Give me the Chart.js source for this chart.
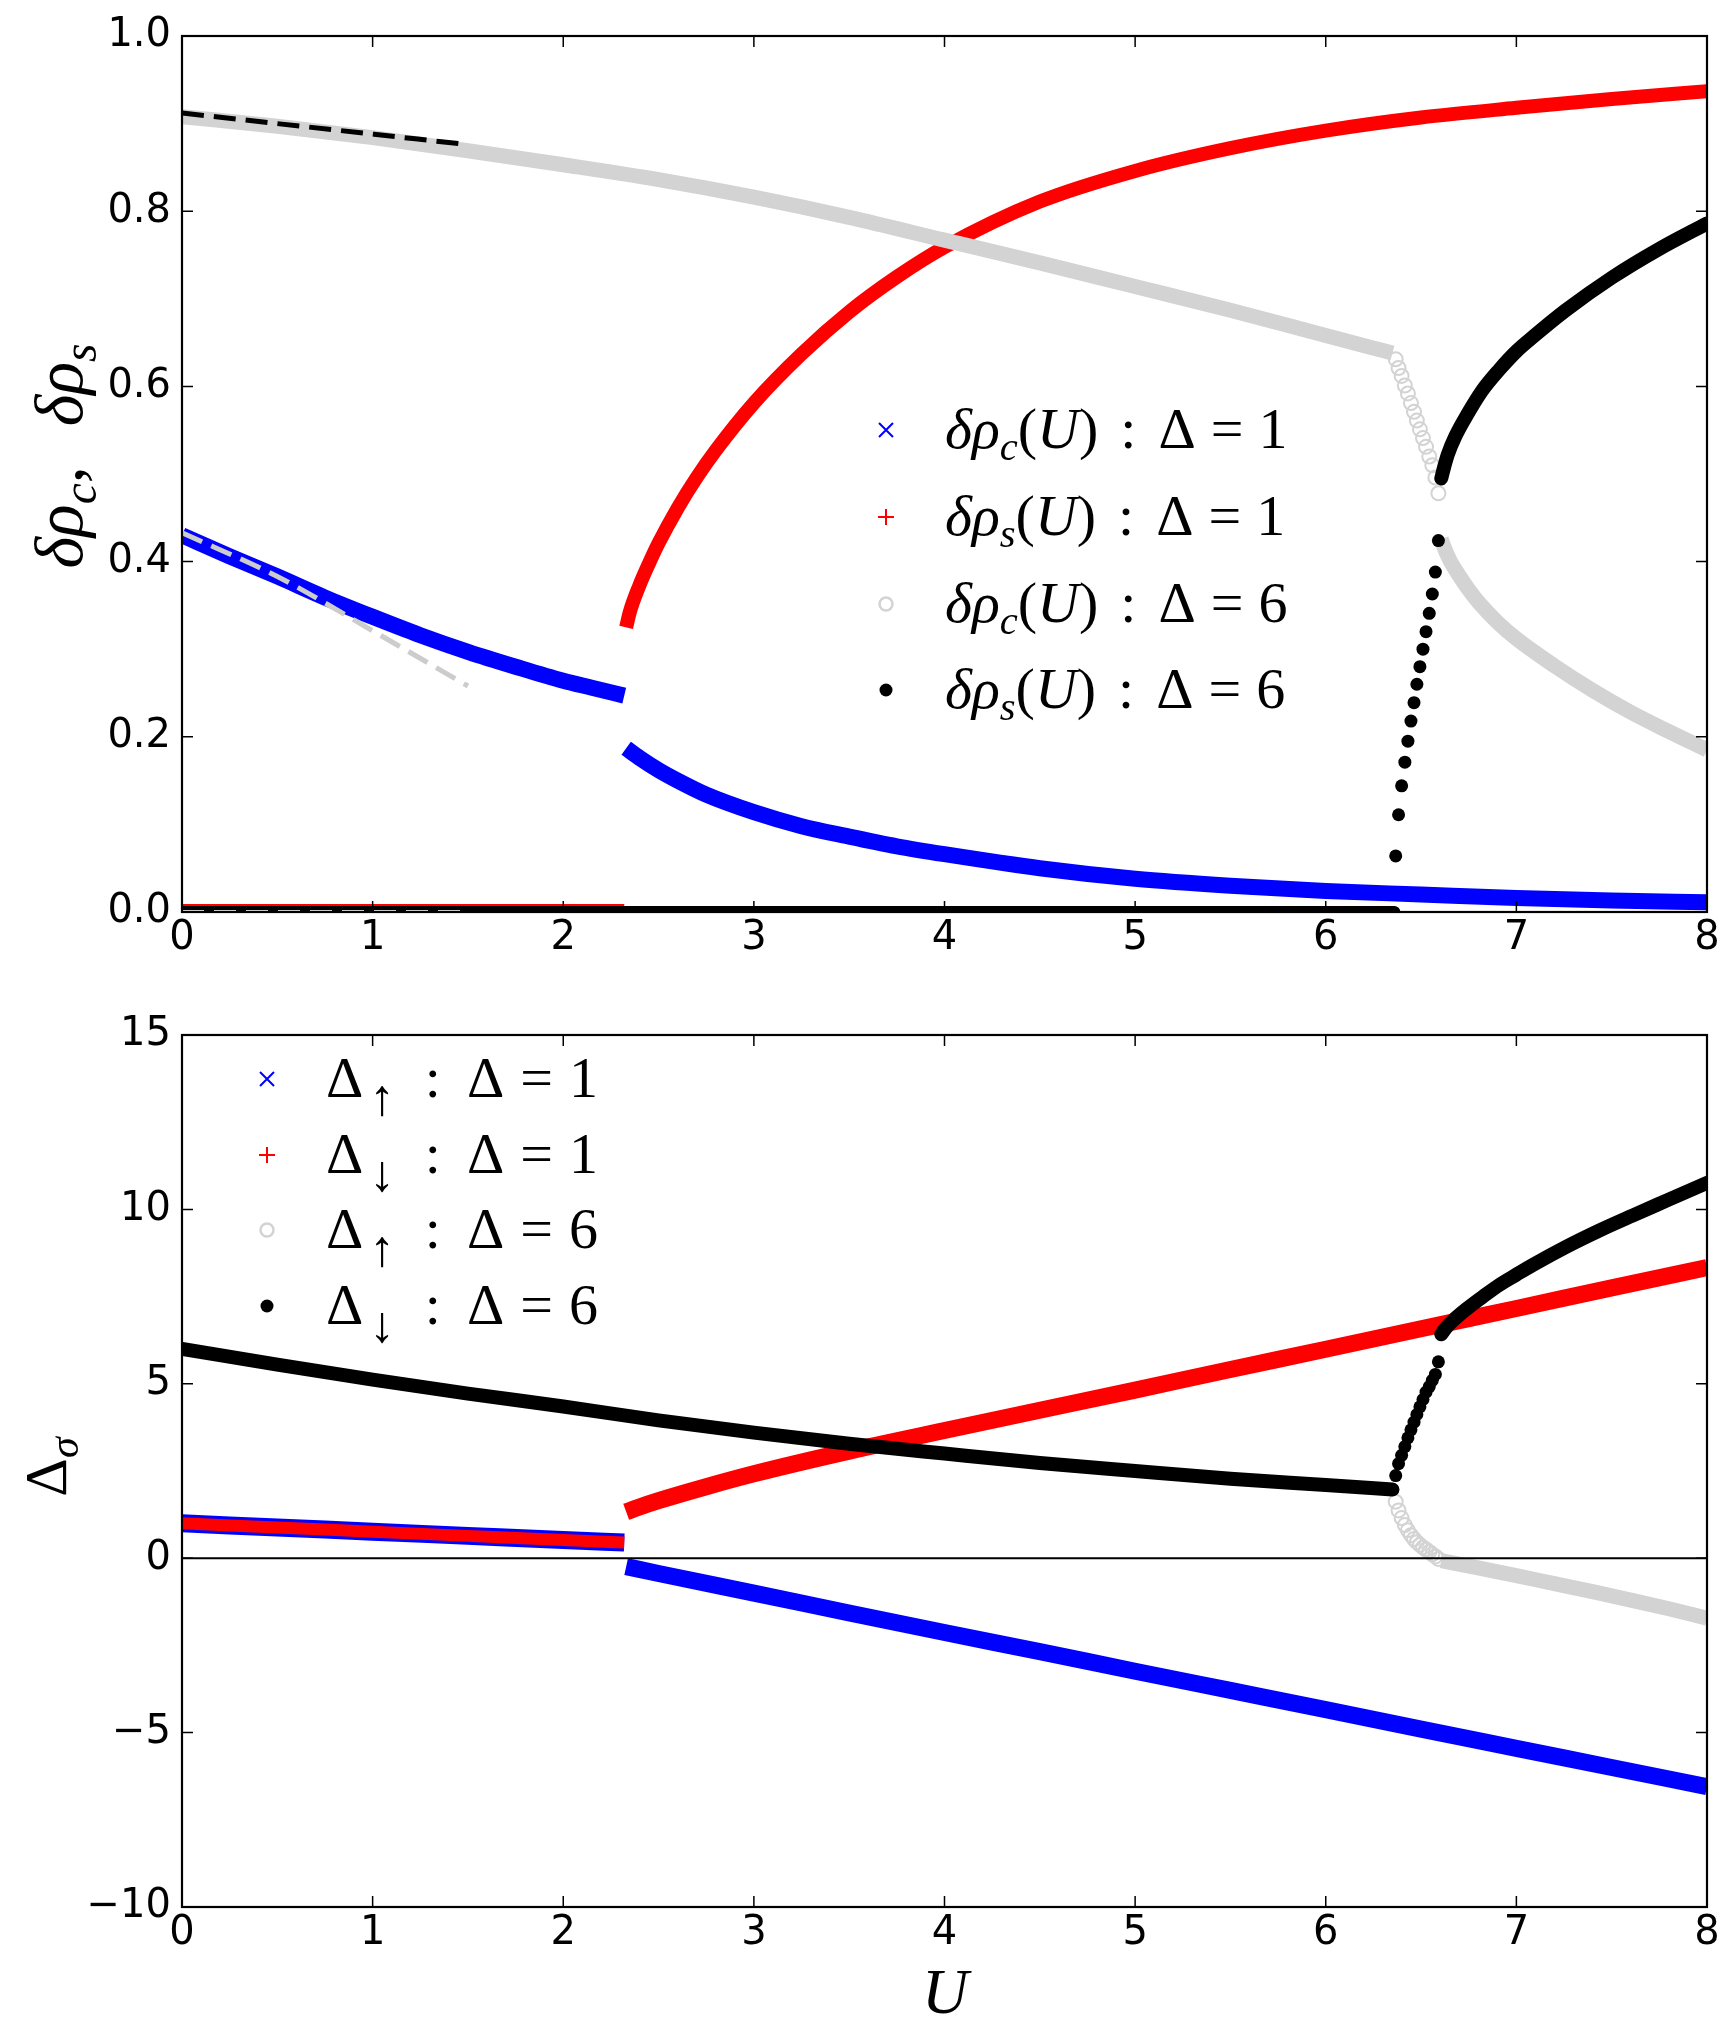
<!DOCTYPE html>
<html>
<head>
<meta charset="utf-8">
<script src="https://cdn.jsdelivr.net/npm/chart.js@4.4.0/dist/chart.umd.min.js"></script>
<style>
  html, body { margin: 0; padding: 0; background: #fff; }
  #wrap { position: relative; width: 1736px; height: 2044px; overflow: hidden; }
  canvas { position: absolute; left: 0; }
  #top { top: 0; width: 1736px; height: 1000px; }
  #bottom { top: 1000px; width: 1736px; height: 1044px; }
</style>
</head>
<body>
<div id="wrap">
  <canvas id="top" width="1736" height="1000"></canvas>
  <canvas id="bottom" width="1736" height="1044"></canvas>
</div>
<script>
// ---- ticks ----
const xTicks = [0, 1, 2, 3, 4, 5, 6, 7, 8];
const xTickLabels = ['0', '1', '2', '3', '4', '5', '6', '7', '8'];
const topYTicks = [0, 0.2, 0.4, 0.6, 0.8, 1.0];
const topYTickLabels = ['0.0', '0.2', '0.4', '0.6', '0.8', '1.0'];
const botYTicks = [-10, -5, 0, 5, 10, 15];
const botYTickLabels = ['\u221210', '\u22125', '0', '5', '10', '15'];

// ---- top panel: delta rho ----
// Delta = 1, charge (blue x)
const U_c1_a = [0, 0.25, 0.5, 0.75, 1, 1.25, 1.5, 1.75, 2, 2.15, 2.32];
const rhoC1_a = [0.430, 0.406, 0.383, 0.359, 0.337, 0.316, 0.297, 0.280, 0.264, 0.256, 0.247];
const U_c1_b = [2.33, 2.4, 2.5, 2.6, 2.75, 3, 3.25, 3.5, 3.75, 4, 4.5, 5, 5.5, 6, 6.5, 7, 7.5, 8];
const rhoC1_b = [0.187, 0.176, 0.162, 0.150, 0.134, 0.114, 0.098, 0.086, 0.075, 0.066, 0.050, 0.038, 0.030, 0.024, 0.020, 0.016, 0.013, 0.011];
// Delta = 1, spin (red +)
const U_s1_a = [0, 2.32];
const rhoS1_a = [0, 0];
const U_s1_b = [2.33, 2.35, 2.4, 2.45, 2.5, 2.6, 2.7, 2.8, 3, 3.25, 3.5, 3.75, 4, 4.5, 5, 5.5, 6, 6.5, 7, 7.5, 8];
const rhoS1_b = [0.325, 0.343, 0.373, 0.398, 0.421, 0.461, 0.496, 0.527, 0.581, 0.637, 0.685, 0.725, 0.759, 0.811, 0.846, 0.872, 0.892, 0.907, 0.918, 0.928, 0.937];
// Delta = 6, charge (grey o)
const U_c6_a = [0, 0.5, 1, 1.5, 2, 2.5, 3, 3.5, 4, 4.5, 5, 5.5, 6, 6.35];
const rhoC6_a = [0.908, 0.897, 0.884, 0.869, 0.853, 0.836, 0.816, 0.793, 0.767, 0.741, 0.714, 0.687, 0.658, 0.638];
const U_jump = [6.367, 6.382, 6.398, 6.415, 6.431, 6.447, 6.463, 6.478, 6.494, 6.510, 6.526, 6.543, 6.559, 6.575, 6.591];
const rhoC6_jump = [0.631, 0.621, 0.612, 0.601, 0.592, 0.581, 0.571, 0.561, 0.551, 0.541, 0.531, 0.520, 0.510, 0.496, 0.478];
const U_c6_c = [6.606, 6.62, 6.65, 6.7, 6.75, 6.8, 6.9, 7.0, 7.2, 7.4, 7.6, 7.8, 8.0];
const rhoC6_c = [0.426, 0.417, 0.402, 0.384, 0.368, 0.354, 0.331, 0.312, 0.281, 0.253, 0.228, 0.206, 0.185];
// Delta = 6, spin (black dots)
const U_s6_a = [0, 6.36];
const rhoS6_a = [0, 0];
const rhoS6_jump = [0.064, 0.111, 0.144, 0.171, 0.195, 0.218, 0.239, 0.260, 0.280, 0.300, 0.320, 0.341, 0.363, 0.388, 0.424];
const U_s6_c = [6.606, 6.62, 6.64, 6.68, 6.74, 6.82, 6.91, 7.0, 7.09, 7.26, 7.5, 7.75, 8.0];
const rhoS6_c = [0.495, 0.507, 0.522, 0.543, 0.567, 0.595, 0.619, 0.640, 0.657, 0.687, 0.724, 0.757, 0.786];
// small-U fits (dashed)
const U_fit = [0, 0.5, 1, 1.5];
const fitC6 = [0.912, 0.900, 0.888, 0.876];
const fitC1 = [0.433, 0.383, 0.321, 0.258];
const fitS = [0, 0, 0, 0];

// ---- bottom panel: Delta_sigma ----
const U_d1_a = [0, 0.5, 1, 1.5, 2, 2.32];
const dUp1_a = [1.00, 0.88, 0.76, 0.64, 0.52, 0.45];
const dDn1_a = [1.00, 0.88, 0.76, 0.64, 0.52, 0.45];
const U_up1_b = [2.33, 2.5, 3, 3.5, 4, 4.5, 5, 5.5, 6, 6.5, 7, 7.5, 8];
const dUp1_b = [-0.24, -0.44, -1.0, -1.57, -2.13, -2.68, -3.24, -3.79, -4.34, -4.9, -5.45, -6.0, -6.55];
const U_dn1_b = [2.33, 2.4, 2.5, 2.75, 3, 3.5, 4, 4.5, 5, 5.5, 6, 6.5, 7, 7.5, 8];
const dDn1_b = [1.33, 1.47, 1.65, 2.05, 2.42, 3.07, 3.66, 4.24, 4.82, 5.41, 5.99, 6.58, 7.16, 7.75, 8.33];
const U_d6_a = [0, 0.5, 1, 1.5, 2, 2.5, 3, 3.5, 4, 4.5, 5, 5.5, 6, 6.35];
const dDn6_a = [6.0, 5.55, 5.12, 4.72, 4.35, 3.95, 3.6, 3.28, 3.0, 2.73, 2.5, 2.28, 2.1, 1.97];
const dUp6_a = [6.0, 5.55, 5.12, 4.72, 4.35, 3.95, 3.6, 3.28, 3.0, 2.73, 2.5, 2.28, 2.1, 1.97];
const dUp6_jump = [1.62, 1.37, 1.15, 0.95, 0.80, 0.66, 0.55, 0.46, 0.38, 0.31, 0.25, 0.18, 0.11, 0.05, -0.02];
const dDn6_jump = [2.37, 2.71, 2.95, 3.2, 3.45, 3.68, 3.9, 4.12, 4.34, 4.55, 4.76, 4.92, 5.10, 5.27, 5.63];
const U_up6_c = [6.606, 6.8, 7.0, 7.2, 7.4, 7.6, 7.8, 8.0];
const dUp6_c = [-0.07, -0.28, -0.5, -0.73, -0.96, -1.2, -1.45, -1.72];
const U_dn6_c = [6.606, 6.63, 6.665, 6.74, 6.82, 6.912, 7.0, 7.087, 7.262, 7.437, 7.612, 7.787, 8.0];
const dDn6_c = [6.42, 6.6, 6.8, 7.15, 7.48, 7.84, 8.13, 8.41, 8.93, 9.4, 9.83, 10.25, 10.76];

// ---- text (math tokens: [text, kind] or a gap in px) ----
const topYLabel = [['δ', 'i'], ['ρ', 'i'], ['c', 'si'], [',', 'r'], 40, ['δ', 'i'], ['ρ', 'i'], ['s', 'si']];
const botYLabel = [['Δ', 'r'], ['σ', 'si']];
const xLabel = [['U', 'i']];
const topLegend = [
  [['δ', 'i'], ['ρ', 'i'], ['c', 'si'], ['(', 'r'], ['U', 'i'], [')', 'r'], 22, [':', 'r'], 22, ['Δ', 'r'], 15, ['=', 'r'], 15, ['1', 'r']],
  [['δ', 'i'], ['ρ', 'i'], ['s', 'si'], ['(', 'r'], ['U', 'i'], [')', 'r'], 22, [':', 'r'], 22, ['Δ', 'r'], 15, ['=', 'r'], 15, ['1', 'r']],
  [['δ', 'i'], ['ρ', 'i'], ['c', 'si'], ['(', 'r'], ['U', 'i'], [')', 'r'], 22, [':', 'r'], 22, ['Δ', 'r'], 15, ['=', 'r'], 15, ['6', 'r']],
  [['δ', 'i'], ['ρ', 'i'], ['s', 'si'], ['(', 'r'], ['U', 'i'], [')', 'r'], 22, [':', 'r'], 22, ['Δ', 'r'], 15, ['=', 'r'], 15, ['6', 'r']]
];
const botLegend = [
  [['Δ', 'r'], 6, ['↑', 'sa'], 30, [':', 'r'], 26, ['Δ', 'r'], 16, ['=', 'r'], 16, ['1', 'r']],
  [['Δ', 'r'], 6, ['↓', 'sa'], 30, [':', 'r'], 26, ['Δ', 'r'], 16, ['=', 'r'], 16, ['1', 'r']],
  [['Δ', 'r'], 6, ['↑', 'sa'], 30, [':', 'r'], 26, ['Δ', 'r'], 16, ['=', 'r'], 16, ['6', 'r']],
  [['Δ', 'r'], 6, ['↓', 'sa'], 30, [':', 'r'], 26, ['Δ', 'r'], 16, ['=', 'r'], 16, ['6', 'r']]
];
const legendMarkers = ['x', '+', 'o', '.'];

const BLUE = '#0000ff', RED = '#ff0000', GREY = '#d3d3d3', BLACK = '#000000';
const SANS = '"DejaVu Sans", sans-serif';
const SERIF = '"Liberation Serif", "DejaVu Serif", serif';

function drawMath(ctx, toks, x, y, size, dry) {
  let cx = x;
  ctx.textAlign = 'left';
  ctx.textBaseline = 'alphabetic';
  for (const tk of toks) {
    if (typeof tk === 'number') { cx += tk; continue; }
    const t = tk[0], k = tk[1];
    let fs = size, dy = 0, it = false;
    if (k === 'i') it = true;
    if (k === 'si') { fs = size * 0.7; dy = size * 0.2; it = true; }
    if (k === 'sa') { fs = size * 0.88; dy = size * 0.31; }
    ctx.font = (it ? 'italic ' : '') + fs + 'px ' + SERIF;
    if (!dry) ctx.fillText(t, cx, y + dy);
    cx += ctx.measureText(t).width;
  }
  return cx - x;
}

function drawMarker(ctx, kind, x, y) {
  ctx.save();
  ctx.beginPath();
  if (kind === 'x') {
    ctx.strokeStyle = BLUE; ctx.lineWidth = 2;
    ctx.moveTo(x - 7, y - 7); ctx.lineTo(x + 7, y + 7);
    ctx.moveTo(x - 7, y + 7); ctx.lineTo(x + 7, y - 7);
    ctx.stroke();
  } else if (kind === '+') {
    ctx.strokeStyle = RED; ctx.lineWidth = 2;
    ctx.moveTo(x - 8, y); ctx.lineTo(x + 8, y);
    ctx.moveTo(x, y - 8); ctx.lineTo(x, y + 8);
    ctx.stroke();
  } else if (kind === 'o') {
    ctx.strokeStyle = GREY; ctx.lineWidth = 2.5;
    ctx.arc(x, y, 6.5, 0, Math.PI * 2);
    ctx.stroke();
  } else {
    ctx.fillStyle = BLACK;
    ctx.arc(x, y, 6.5, 0, Math.PI * 2);
    ctx.fill();
  }
  ctx.restore();
}

function series(xs, ys, o) {
  return Object.assign({
    data: xs.map((x, i) => ({ x: x, y: ys[i] })),
    showLine: true, borderWidth: 0, pointRadius: 0, pointHoverRadius: 0,
    cubicInterpolationMode: 'monotone', borderCapStyle: 'butt', borderJoinStyle: 'round',
    clip: 0, fill: false
  }, o);
}
const ring = { showLine: false, pointStyle: 'circle', pointRadius: 7, pointBorderColor: GREY, pointBackgroundColor: 'rgba(0,0,0,0)', pointBorderWidth: 2 };
const dot = { showLine: false, pointStyle: 'circle', pointRadius: 6.5, pointBorderColor: BLACK, pointBackgroundColor: BLACK, pointBorderWidth: 0 };

// spines and inward ticks on all four sides
const framePlugin = {
  id: 'frame',
  afterDatasetsDraw(chart) {
    const ctx = chart.ctx, a = chart.chartArea, sx = chart.scales.x, sy = chart.scales.y;
    ctx.save();
    ctx.strokeStyle = '#000';
    ctx.lineWidth = 1.5;
    ctx.beginPath();
    sx.ticks.forEach(t => {
      const px = sx.getPixelForValue(t.value);
      ctx.moveTo(px, a.bottom); ctx.lineTo(px, a.bottom - 11);
      ctx.moveTo(px, a.top); ctx.lineTo(px, a.top + 11);
    });
    sy.ticks.forEach(t => {
      const py = sy.getPixelForValue(t.value);
      ctx.moveTo(a.left, py); ctx.lineTo(a.left + 11, py);
      ctx.moveTo(a.right, py); ctx.lineTo(a.right - 11, py);
    });
    ctx.stroke();
    ctx.lineWidth = 2.2;
    ctx.strokeRect(a.left, a.top, a.right - a.left, a.bottom - a.top);
    ctx.restore();
  }
};

function makeAnnot(cfg) {
  return {
    id: 'annot',
    afterDatasetsDraw(chart) {
      if (!cfg.zeroLine) return;
      const ctx = chart.ctx, a = chart.chartArea;
      const py = chart.scales.y.getPixelForValue(0);
      ctx.save();
      ctx.strokeStyle = '#000'; ctx.lineWidth = 2;
      ctx.beginPath(); ctx.moveTo(a.left, py); ctx.lineTo(a.right, py); ctx.stroke();
      ctx.restore();
    },
    afterDraw(chart) {
      const ctx = chart.ctx;
      ctx.save();
      ctx.fillStyle = '#000';
      // y label, rotated
      const yl = cfg.yLabel;
      const w = drawMath(ctx, yl.toks, 0, 0, yl.size, true);
      ctx.save();
      ctx.translate(yl.x, yl.y);
      ctx.rotate(-Math.PI / 2);
      drawMath(ctx, yl.toks, -w / 2, 0, yl.size, false);
      ctx.restore();
      // x label
      if (cfg.xLabel) {
        const xl = cfg.xLabel;
        const wx = drawMath(ctx, xl.toks, 0, 0, xl.size, true);
        drawMath(ctx, xl.toks, xl.x - wx / 2, xl.y, xl.size, false);
      }
      // legend
      const lg = cfg.legend;
      lg.rows.forEach((toks, i) => {
        const cy = lg.ys[i];
        drawMarker(ctx, legendMarkers[i], lg.mx, cy);
        ctx.fillStyle = '#000';
        drawMath(ctx, toks, lg.tx, cy + lg.dy, lg.size, false);
      });
      ctx.restore();
    }
  };
}

function baseOptions(yMin, yMax, yTicks, yLabels, padTop, xHeight) {
  return {
    responsive: false, animation: false, devicePixelRatio: 1, events: [],
    layout: { padding: { left: 0, right: 29, top: padTop, bottom: 0 } },
    plugins: { legend: { display: false }, tooltip: { enabled: false } },
    scales: {
      x: {
        type: 'linear', min: 0, max: 8,
        grid: { display: false, drawTicks: false }, border: { display: false },
        afterBuildTicks: s => { s.ticks = xTicks.map(v => ({ value: v })); },
        afterFit: s => { s.height = xHeight; },
        ticks: {
          autoSkip: false, maxRotation: 0, padding: 3, color: '#000',
          font: { family: SANS, size: 40 },
          callback: (v, i) => xTickLabels[i]
        }
      },
      y: {
        type: 'linear', min: yMin, max: yMax,
        grid: { display: false, drawTicks: false }, border: { display: false },
        afterBuildTicks: s => { s.ticks = yTicks.map(v => ({ value: v })); },
        afterFit: s => { s.width = 182; },
        ticks: {
          autoSkip: false, padding: 11, color: '#000',
          font: { family: SANS, size: 40 },
          callback: (v, i) => yLabels[i]
        }
      }
    }
  };
}

// ---- top chart ----
new Chart(document.getElementById('top'), {
  type: 'line',
  data: {
    datasets: [
      series(U_c1_a, rhoC1_a, { borderColor: BLUE, borderWidth: 16, order: 60 }),
      series(U_c1_b, rhoC1_b, { borderColor: BLUE, borderWidth: 16, order: 60 }),
      series(U_s1_a, rhoS1_a, { borderColor: RED, borderWidth: 16, order: 50 }),
      series(U_s1_b, rhoS1_b, { borderColor: RED, borderWidth: 14, order: 50 }),
      series(U_c6_a, rhoC6_a, { borderColor: GREY, borderWidth: 15, order: 40 }),
      series(U_jump, rhoC6_jump, Object.assign({ order: 40 }, ring)),
      series(U_c6_c, rhoC6_c, { borderColor: GREY, borderWidth: 15, order: 40 }),
      series(U_s6_a, rhoS6_a, { borderColor: BLACK, borderWidth: 12, borderCapStyle: 'round', order: 30 }),
      series(U_jump, rhoS6_jump, Object.assign({ order: 30 }, dot)),
      series(U_s6_c, rhoS6_c, { borderColor: BLACK, borderWidth: 14, borderCapStyle: 'round', order: 30 }),
      series(U_fit, fitC6, { borderColor: BLACK, borderWidth: 5, borderDash: [22, 10], order: 10 }),
      series(U_fit, fitC1, { borderColor: '#cccccc', borderWidth: 5, borderDash: [22, 10], order: 10 }),
      series(U_fit, fitS, { borderColor: '#dddddd', borderWidth: 4, borderDash: [22, 10], order: 10 })
    ]
  },
  options: baseOptions(0, 1, topYTicks, topYTickLabels, 36, 88),
  plugins: [framePlugin, makeAnnot({
    yLabel: { toks: topYLabel, x: 82, y: 456, size: 68 },
    legend: { rows: topLegend, mx: 886, tx: 945, ys: [430, 517, 604, 690], dy: 18, size: 58 }
  })]
});

// ---- bottom chart ----
new Chart(document.getElementById('bottom'), {
  type: 'line',
  data: {
    datasets: [
      series(U_d1_a, dUp1_a, { borderColor: BLUE, borderWidth: 18, order: 60 }),
      series(U_up1_b, dUp1_b, { borderColor: BLUE, borderWidth: 17, order: 60 }),
      series(U_d1_a, dDn1_a, { borderColor: RED, borderWidth: 12, order: 50 }),
      series(U_dn1_b, dDn1_b, { borderColor: RED, borderWidth: 17, order: 50 }),
      series(U_d6_a, dUp6_a, { borderColor: GREY, borderWidth: 12, order: 40 }),
      series(U_jump, dUp6_jump, Object.assign({ order: 40 }, ring)),
      series(U_up6_c, dUp6_c, { borderColor: GREY, borderWidth: 15, order: 40 }),
      series(U_d6_a, dDn6_a, { borderColor: BLACK, borderWidth: 14, borderCapStyle: 'round', order: 30 }),
      series(U_jump, dDn6_jump, Object.assign({ order: 30 }, dot)),
      series(U_dn6_c, dDn6_c, { borderColor: BLACK, borderWidth: 14, borderCapStyle: 'round', order: 30 })
    ]
  },
  options: baseOptions(-10, 15, botYTicks, botYTickLabels, 27, 137),
  plugins: [framePlugin, makeAnnot({
    zeroLine: true,
    yLabel: { toks: botYLabel, x: 66, y: 467, size: 60 },
    xLabel: { toks: xLabel, x: 945, y: 1013, size: 64 },
    legend: { rows: botLegend, mx: 267, tx: 326, ys: [79, 155, 230, 306], dy: 18, size: 58 }
  })]
});
</script>
</body>
</html>
